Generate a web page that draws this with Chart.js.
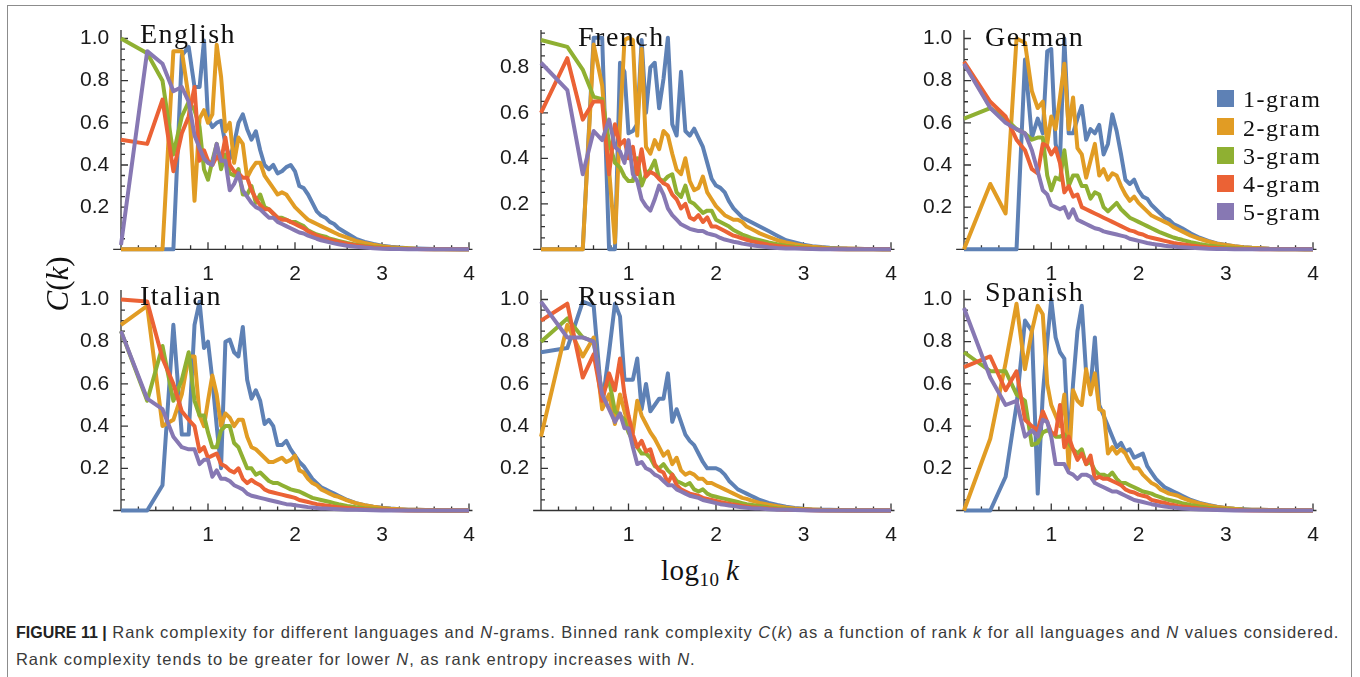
<!DOCTYPE html>
<html><head><meta charset="utf-8">
<script src="https://cdn.jsdelivr.net/npm/chart.js@4.4.1/dist/chart.umd.min.js"></script>
<style>
html,body{margin:0;padding:0;background:#fff;width:1360px;height:677px;overflow:hidden;position:relative;}
#frame{position:absolute;left:7px;top:5px;width:1345px;height:740px;border:1.5px solid #8c8c8c;box-sizing:border-box;}
canvas{position:absolute;}
.serif{position:absolute;font-family:"Liberation Serif",serif;color:#111;line-height:1;white-space:nowrap;}
.title{font-size:28px;letter-spacing:1.5px;}
.leg{font-size:24px;letter-spacing:1.5px;}
.sw{position:absolute;width:17px;height:17px;}
#ylab{font-size:31px;transform:translate(-50%,-50%) rotate(-90deg);}
#xlab{font-size:29px;letter-spacing:0.5px;}
#xlab sub{font-size:19px;vertical-align:-6px;line-height:0;}
.cap{position:absolute;left:16px;font-family:"Liberation Sans",Arial,sans-serif;font-size:16.5px;letter-spacing:0.95px;color:#3a3a3a;white-space:nowrap;line-height:1;}
.cap b{color:#222;letter-spacing:0;font-size:16px;}
</style>
</head><body>
<div id="frame"></div>
<div id="root"></div>
<script>
// ---------------- data ----------------
const logK = [0, 0.301, 0.477, 0.602, 0.699, 0.778, 0.845, 0.903, 0.954, 1.0,
  1.05, 1.1, 1.15, 1.2, 1.25, 1.3, 1.35, 1.4, 1.45, 1.5, 1.55, 1.6, 1.65, 1.7, 1.75, 1.8, 1.85, 1.9, 1.95, 2.0,
  2.05, 2.1, 2.15, 2.2, 2.25, 2.3, 2.35, 2.4, 2.45, 2.5,
  2.6, 2.7, 2.8, 2.9, 3.0, 3.1, 3.2, 3.3, 3.4, 3.5, 3.6, 3.7, 3.8, 3.9, 4.0];

const languages = ['English', 'French', 'German', 'Italian', 'Russian', 'Spanish'];
const ngramLabels = ['1-gram', '2-gram', '3-gram', '4-gram', '5-gram'];
const xTickLabels = [1, 2, 3, 4];
const yTickLabels = [0.2, 0.4, 0.6, 0.8, 1.0];

const english1 = [0,0,0,0,0.92,0.96,0.77,0.77,0.99,0.62,
  0.58,0.6,0.61,0.5,0.43,0.5,0.6,0.64,0.57,0.52,0.56,0.47,0.4,0.38,0.4,0.36,0.37,0.39,0.4,0.37,
  0.3,0.29,0.26,0.22,0.18,0.16,0.15,0.13,0.12,0.1,
  0.075,0.05,0.035,0.025,0.017,0.012,0.008,0.005,0.004,0.003,0.002,0.001,0.001,0.0005,0];
const english2 = [0,0,0,0.94,0.94,0.72,0.23,0.62,0.66,0.6,
  0.64,0.97,0.82,0.56,0.6,0.41,0.53,0.5,0.34,0.38,0.41,0.41,0.35,0.32,0.29,0.26,0.27,0.26,0.23,0.2,
  0.18,0.16,0.14,0.13,0.12,0.11,0.1,0.09,0.08,0.07,
  0.055,0.04,0.03,0.022,0.015,0.01,0.007,0.005,0.003,0.002,0.0015,0.001,0.0005,0.0003,0];
const english3 = [1.0,0.93,0.8,0.45,0.63,0.7,0.66,0.58,0.38,0.33,
  0.42,0.5,0.38,0.45,0.36,0.35,0.38,0.26,0.26,0.3,0.22,0.26,0.2,0.19,0.17,0.15,0.15,0.14,0.13,0.13,
  0.12,0.11,0.09,0.08,0.07,0.065,0.06,0.05,0.045,0.04,
  0.03,0.022,0.016,0.011,0.008,0.005,0.004,0.003,0.002,0.001,0,0,0,0,0];
const english4 = [0.52,0.5,0.71,0.37,0.55,0.63,0.77,0.42,0.47,0.42,
  0.4,0.44,0.42,0.53,0.4,0.37,0.36,0.34,0.34,0.28,0.24,0.21,0.19,0.19,0.17,0.15,0.14,0.14,0.13,0.12,
  0.11,0.1,0.085,0.075,0.065,0.058,0.05,0.045,0.04,0.035,
  0.026,0.019,0.013,0.009,0.006,0.004,0.003,0.002,0.001,0,0,0,0,0,0];
const english5 = [0.02,0.94,0.88,0.75,0.77,0.7,0.54,0.48,0.43,0.41,
  0.4,0.5,0.42,0.42,0.28,0.31,0.36,0.28,0.25,0.22,0.2,0.19,0.17,0.15,0.15,0.13,0.12,0.11,0.1,0.09,
  0.08,0.075,0.065,0.058,0.05,0.043,0.038,0.033,0.028,0.024,
  0.017,0.012,0.008,0.005,0.003,0.002,0.001,0,0,0,0,0,0,0,0];

const french1 = [0,0,0,0.93,0.93,0,0,0.82,0.78,0.51,
  0.52,0.55,0.92,0.6,0.8,0.82,0.62,0.75,0.93,0.55,0.5,0.78,0.52,0.5,0.53,0.49,0.45,0.38,0.31,0.28,
  0.27,0.25,0.21,0.18,0.16,0.14,0.13,0.12,0.11,0.1,
  0.08,0.06,0.04,0.03,0.02,0.014,0.01,0.007,0.005,0.003,0.002,0.001,0.001,0,0];
const french2 = [0,0,0,0.9,0.72,0.35,0.03,0.55,0.92,0.93,
  0.92,0.5,0.88,0.45,0.42,0.48,0.44,0.52,0.5,0.42,0.35,0.33,0.4,0.3,0.26,0.27,0.32,0.25,0.22,0.19,
  0.17,0.15,0.14,0.13,0.13,0.12,0.1,0.09,0.08,0.07,
  0.055,0.04,0.03,0.022,0.016,0.011,0.008,0.005,0.004,0.003,0.002,0.001,0.001,0,0];
const french3 = [0.92,0.89,0.79,0.67,0.66,0.47,0.38,0.36,0.32,0.3,
  0.3,0.4,0.28,0.33,0.35,0.39,0.31,0.3,0.32,0.33,0.25,0.23,0.28,0.21,0.2,0.18,0.16,0.17,0.17,0.13,
  0.12,0.11,0.1,0.085,0.075,0.065,0.058,0.05,0.045,0.04,
  0.03,0.022,0.016,0.011,0.008,0.005,0.003,0.002,0.001,0,0,0,0,0,0];
const french4 = [0.6,0.84,0.57,0.65,0.65,0.33,0.55,0.46,0.48,0.4,
  0.45,0.33,0.44,0.32,0.34,0.33,0.31,0.29,0.28,0.24,0.22,0.18,0.2,0.14,0.13,0.15,0.12,0.14,0.1,0.1,
  0.09,0.08,0.07,0.06,0.055,0.048,0.042,0.036,0.032,0.028,
  0.02,0.015,0.01,0.007,0.005,0.003,0.002,0.001,0,0,0,0,0,0,0];
const french5 = [0.82,0.7,0.33,0.52,0.48,0.57,0.45,0.43,0.38,0.48,
  0.33,0.3,0.22,0.19,0.17,0.22,0.28,0.24,0.18,0.15,0.13,0.11,0.1,0.09,0.085,0.08,0.08,0.07,0.065,0.06,
  0.05,0.043,0.038,0.033,0.03,0.025,0.022,0.019,0.016,0.013,
  0.009,0.006,0.004,0.003,0.002,0.001,0,0,0,0,0,0,0,0,0];

const german1 = [0,0,0,0,0.9,0.53,0.62,0.55,0.94,0.95,
  0.5,0.42,1.0,0.55,0.55,0.62,0.68,0.52,0.57,0.55,0.59,0.45,0.5,0.64,0.56,0.45,0.33,0.31,0.33,0.28,
  0.25,0.24,0.21,0.19,0.17,0.15,0.14,0.12,0.11,0.1,
  0.075,0.055,0.04,0.028,0.02,0.014,0.01,0.007,0.005,0.003,0.002,0.001,0.001,0,0];
const german2 = [0,0.31,0.17,1.0,0.98,0.75,0.67,0.7,0.5,0.63,
  0.57,0.72,0.88,0.57,0.72,0.48,0.45,0.34,0.42,0.5,0.35,0.38,0.33,0.36,0.35,0.3,0.26,0.23,0.25,0.22,
  0.2,0.18,0.16,0.15,0.14,0.13,0.12,0.105,0.095,0.085,
  0.065,0.05,0.037,0.027,0.02,0.014,0.01,0.007,0.005,0.003,0.002,0.001,0.001,0,0];
const german3 = [0.62,0.67,0.62,0.57,0.55,0.52,0.53,0.53,0.35,0.28,
  0.34,0.33,0.47,0.3,0.35,0.35,0.3,0.3,0.24,0.27,0.26,0.2,0.18,0.2,0.22,0.19,0.17,0.15,0.14,0.13,
  0.12,0.11,0.1,0.09,0.08,0.072,0.064,0.056,0.05,0.045,
  0.034,0.025,0.018,0.013,0.009,0.006,0.004,0.003,0.002,0.001,0,0,0,0,0];
const german4 = [0.89,0.7,0.63,0.52,0.47,0.38,0.36,0.5,0.49,0.45,
  0.48,0.41,0.27,0.3,0.25,0.26,0.2,0.19,0.18,0.17,0.16,0.15,0.14,0.13,0.12,0.11,0.1,0.09,0.085,0.075,
  0.07,0.06,0.055,0.05,0.045,0.04,0.035,0.03,0.027,0.024,
  0.018,0.013,0.009,0.006,0.004,0.003,0.002,0.001,0,0,0,0,0,0,0];
const german5 = [0.88,0.67,0.6,0.57,0.55,0.47,0.37,0.28,0.26,0.21,
  0.2,0.19,0.2,0.15,0.19,0.14,0.13,0.12,0.11,0.1,0.095,0.085,0.08,0.075,0.07,0.065,0.06,0.05,0.045,0.04,
  0.035,0.03,0.026,0.023,0.02,0.017,0.015,0.013,0.011,0.01,
  0.007,0.005,0.003,0.002,0.001,0,0,0,0,0,0,0,0,0,0];

const italian1 = [0,0,0.12,0.88,0.36,0.36,0.88,0.99,0.77,0.8,
  0.62,0.4,0.2,0.8,0.81,0.75,0.73,0.87,0.62,0.53,0.57,0.52,0.41,0.43,0.4,0.31,0.31,0.33,0.29,0.26,
  0.23,0.21,0.18,0.15,0.13,0.11,0.1,0.09,0.08,0.07,
  0.05,0.035,0.025,0.018,0.013,0.009,0.006,0.004,0.003,0.002,0.001,0,0,0,0];
const italian2 = [0.88,0.97,0.4,0.43,0.55,0.73,0.73,0.45,0.4,0.52,
  0.64,0.55,0.4,0.46,0.44,0.4,0.43,0.43,0.35,0.3,0.29,0.27,0.25,0.23,0.23,0.24,0.25,0.23,0.24,0.26,
  0.19,0.18,0.15,0.13,0.12,0.1,0.09,0.08,0.07,0.065,
  0.048,0.035,0.025,0.018,0.012,0.008,0.006,0.004,0.003,0.002,0.001,0,0,0,0];
const italian3 = [0.85,0.52,0.78,0.52,0.62,0.75,0.52,0.45,0.45,0.37,
  0.3,0.3,0.38,0.4,0.4,0.32,0.3,0.25,0.2,0.2,0.17,0.18,0.16,0.14,0.13,0.13,0.12,0.11,0.1,0.095,
  0.09,0.08,0.07,0.06,0.055,0.05,0.045,0.04,0.035,0.03,
  0.022,0.016,0.011,0.008,0.005,0.003,0.002,0.001,0,0,0,0,0,0,0];
const italian4 = [1.0,0.99,0.72,0.6,0.47,0.43,0.4,0.28,0.3,0.25,
  0.26,0.27,0.22,0.21,0.19,0.18,0.2,0.15,0.13,0.145,0.13,0.12,0.1,0.09,0.085,0.08,0.075,0.07,0.065,0.06,
  0.05,0.045,0.04,0.035,0.03,0.027,0.024,0.021,0.018,0.016,
  0.012,0.008,0.006,0.004,0.003,0.002,0.001,0,0,0,0,0,0,0,0];
const italian5 = [0.85,0.53,0.48,0.35,0.3,0.29,0.29,0.22,0.24,0.24,
  0.16,0.19,0.15,0.15,0.14,0.12,0.11,0.1,0.08,0.07,0.065,0.06,0.055,0.05,0.045,0.04,0.035,0.03,0.028,0.025,
  0.022,0.019,0.016,0.014,0.012,0.01,0.009,0.008,0.007,0.006,
  0.004,0.003,0.002,0.001,0,0,0,0,0,0,0,0,0,0,0];

const russian1 = [0.75,0.77,0.99,0.97,0.5,0.75,0.98,0.92,0.62,0.62,
  0.62,0.72,0.48,0.6,0.47,0.5,0.53,0.53,0.65,0.42,0.48,0.42,0.36,0.33,0.31,0.27,0.23,0.2,0.2,0.2,
  0.19,0.17,0.14,0.12,0.1,0.09,0.08,0.07,0.06,0.05,
  0.036,0.026,0.018,0.012,0.008,0.005,0.004,0.003,0.002,0.001,0,0,0,0,0];
const russian2 = [0.35,0.88,0.73,0.82,0.48,0.55,0.41,0.55,0.47,0.4,
  0.37,0.52,0.45,0.41,0.37,0.34,0.3,0.26,0.28,0.22,0.25,0.19,0.17,0.18,0.17,0.15,0.15,0.13,0.13,0.12,
  0.11,0.1,0.09,0.08,0.07,0.06,0.055,0.048,0.042,0.036,
  0.027,0.02,0.014,0.01,0.007,0.005,0.003,0.002,0.001,0,0,0,0,0,0];
const russian3 = [0.8,0.91,0.82,0.8,0.55,0.62,0.47,0.45,0.43,0.37,
  0.33,0.3,0.27,0.27,0.25,0.21,0.2,0.22,0.19,0.17,0.14,0.13,0.12,0.13,0.1,0.09,0.1,0.08,0.07,0.065,
  0.06,0.055,0.05,0.045,0.04,0.035,0.03,0.027,0.024,0.021,
  0.015,0.011,0.008,0.005,0.003,0.002,0.001,0,0,0,0,0,0,0,0];
const russian4 = [0.9,0.98,0.63,0.74,0.52,0.65,0.57,0.72,0.55,0.45,
  0.36,0.3,0.33,0.28,0.29,0.22,0.19,0.18,0.13,0.17,0.12,0.1,0.09,0.08,0.075,0.07,0.06,0.055,0.05,0.045,
  0.04,0.036,0.032,0.028,0.025,0.022,0.019,0.016,0.014,0.012,
  0.009,0.006,0.004,0.003,0.002,0.001,0,0,0,0,0,0,0,0,0];
const russian5 = [0.99,0.82,0.82,0.8,0.55,0.48,0.42,0.46,0.39,0.39,
  0.3,0.22,0.23,0.2,0.19,0.17,0.16,0.14,0.12,0.12,0.1,0.09,0.08,0.07,0.065,0.06,0.05,0.045,0.04,0.035,
  0.03,0.027,0.024,0.021,0.018,0.015,0.013,0.011,0.01,0.009,
  0.006,0.004,0.003,0.002,0.001,0,0,0,0,0,0,0,0,0,0];

const spanish1 = [0,0,0.16,0.5,0.9,0.85,0.08,0.55,0.8,1.0,
  0.82,0.75,0.72,0.3,0.6,0.85,0.97,0.65,0.58,0.82,0.5,0.45,0.4,0.35,0.3,0.32,0.28,0.29,0.25,0.26,
  0.27,0.21,0.18,0.15,0.13,0.11,0.1,0.09,0.08,0.07,
  0.05,0.036,0.026,0.018,0.012,0.008,0.006,0.004,0.003,0.002,0.001,0,0,0,0];
const spanish2 = [0,0.34,0.7,0.98,0.67,0.85,0.97,0.93,0.6,0.5,
  0.45,0.4,0.55,0.2,0.57,0.52,0.5,0.67,0.55,0.65,0.48,0.47,0.27,0.3,0.27,0.29,0.27,0.23,0.2,0.2,
  0.17,0.15,0.13,0.12,0.1,0.09,0.08,0.075,0.07,0.06,
  0.045,0.033,0.024,0.017,0.012,0.008,0.005,0.004,0.003,0.002,0.001,0,0,0,0];
const spanish3 = [0.75,0.66,0.66,0.55,0.52,0.31,0.32,0.37,0.38,0.37,
  0.35,0.35,0.36,0.32,0.29,0.27,0.29,0.22,0.23,0.19,0.17,0.17,0.16,0.18,0.15,0.13,0.13,0.12,0.11,0.1,
  0.09,0.085,0.08,0.07,0.063,0.055,0.05,0.045,0.04,0.035,
  0.026,0.019,0.013,0.009,0.006,0.004,0.003,0.002,0.001,0,0,0,0,0,0];
const spanish4 = [0.68,0.73,0.57,0.66,0.43,0.4,0.38,0.47,0.42,0.37,
  0.36,0.5,0.3,0.35,0.29,0.24,0.27,0.22,0.26,0.15,0.16,0.15,0.15,0.14,0.13,0.12,0.1,0.09,0.085,0.075,
  0.07,0.065,0.05,0.045,0.04,0.036,0.03,0.026,0.022,0.019,
  0.014,0.01,0.007,0.005,0.003,0.002,0.001,0,0,0,0,0,0,0,0];
const spanish5 = [0.96,0.63,0.5,0.52,0.35,0.38,0.35,0.43,0.42,0.35,
  0.22,0.22,0.22,0.18,0.17,0.15,0.17,0.17,0.16,0.13,0.12,0.11,0.1,0.09,0.09,0.08,0.07,0.06,0.05,0.045,
  0.04,0.035,0.03,0.026,0.022,0.019,0.016,0.014,0.012,0.01,
  0.007,0.005,0.003,0.002,0.001,0,0,0,0,0,0,0,0,0,0];

const seriesByLanguage = {
  English: [english1, english2, english3, english4, english5],
  French:  [french1, french2, french3, french4, french5],
  German:  [german1, german2, german3, german4, german5],
  Italian: [italian1, italian2, italian3, italian4, italian5],
  Russian: [russian1, russian2, russian3, russian4, russian5],
  Spanish: [spanish1, spanish2, spanish3, spanish4, spanish5]
};

// ---------------- styling / layout ----------------
const colors = ['#5E81B5', '#E19C24', '#8FB032', '#EB6235', '#8778B3'];
const colX0 = [121, 541, 964];        // pixel of x = 0 per column
const colUnit = [87, 87.5, 87.25];    // pixels per x unit
const rowY0 = [249.3, 510.5];         // pixel of y = 0 per row
const rowTop = [30, 290];             // top of y axis per row
const yUnitGrid = [[210.8, 227.5, 210.8], [211, 211, 211]];
const XMIN = -0.09, XMAX = 4.04;
const YW = 50, PT = 18, PR = 16, XH = 36;

Chart.defaults.font.family = '"Liberation Sans", Arial, sans-serif';
Chart.defaults.font.size = 21;
Chart.defaults.color = '#1a1a1a';

const mmaAxes = {
  id: 'mmaAxes',
  beforeDatasetsDraw(chart) {
    const {ctx, scales: {x, y}} = chart;
    const px0 = x.getPixelForValue(0), py0 = y.getPixelForValue(0);
    ctx.save();
    ctx.strokeStyle = '#333';
    ctx.lineWidth = 1.3;
    ctx.beginPath();
    ctx.moveTo(x.left, py0); ctx.lineTo(x.right, py0);
    ctx.moveTo(px0, py0); ctx.lineTo(px0, y.top);
    for (let i = 1; i <= 20; i++) {
      const p = x.getPixelForValue(i * 0.2);
      ctx.moveTo(p, py0); ctx.lineTo(p, py0 - (i % 5 === 0 ? 7 : 4));
    }
    for (let i = 1; i * 0.05 <= y.max + 1e-9; i++) {
      const p = y.getPixelForValue(i * 0.05);
      ctx.moveTo(px0, p); ctx.lineTo(px0 + (i % 4 === 0 ? 7 : 4), p);
    }
    ctx.stroke();
    ctx.restore();
  }
};

const root = document.getElementById('root');
languages.forEach((lang, idx) => {
  const r = Math.floor(idx / 3), c = idx % 3;
  const x0 = colX0[c], ux = colUnit[c], y0 = rowY0[r], uy = yUnitGrid[r][c], top = rowTop[r];
  const chartL = x0 + XMIN * ux, chartR = x0 + XMAX * ux, chartT = top, chartB = y0 + 3;
  const cL = Math.floor(chartL - YW), cT = Math.floor(chartT - PT);
  const cW = Math.ceil(chartR + PR - cL), cH = Math.ceil(chartB + XH - cT);
  const ywEff = chartL - cL, ptEff = chartT - cT, prEff = cL + cW - chartR, xhEff = cT + cH - chartB;
  const ymin = -3 / uy, ymax = (y0 - top) / uy;

  const cv = document.createElement('canvas');
  cv.width = cW; cv.height = cH;
  cv.style.left = cL + 'px'; cv.style.top = cT + 'px';
  cv.style.width = cW + 'px'; cv.style.height = cH + 'px';
  root.appendChild(cv);

  const datasets = seriesByLanguage[lang].map((arr, i) => ({
    label: ngramLabels[i],
    data: logK.map((k, j) => ({x: k, y: arr[j]})),
    borderColor: colors[i],
    backgroundColor: colors[i],
    borderWidth: 4,
    pointRadius: 0,
    tension: 0,
    borderJoinStyle: 'round',
    order: 5 - i
  }));

  new Chart(cv, {
    type: 'line',
    data: {datasets},
    options: {
      responsive: false, animation: false, devicePixelRatio: 1,
      layout: {padding: {top: ptEff, right: prEff, left: 0, bottom: 0}},
      plugins: {legend: {display: false}, tooltip: {enabled: false}},
      scales: {
        x: {
          type: 'linear', min: XMIN, max: XMAX,
          grid: {display: false, drawTicks: false}, border: {display: false},
          afterBuildTicks: s => { s.ticks = xTickLabels.map(v => ({value: v})); },
          afterFit: s => { s.height = xhEff; },
          ticks: {padding: 9, maxRotation: 0, autoSkip: false, callback: v => String(v)}
        },
        y: {
          type: 'linear', min: ymin, max: ymax,
          grid: {display: false, drawTicks: false}, border: {display: false},
          afterBuildTicks: s => { s.ticks = yTickLabels.filter(v => v <= ymax + 1e-9).map(v => ({value: v})); },
          afterFit: s => { s.width = ywEff; },
          ticks: {padding: 4, autoSkip: false, callback: v => v.toFixed(1)}
        }
      }
    },
    plugins: [mmaAxes]
  });
});

// ---------- text elements ----------
function addText(cls, html, left, baseline, fs, asc) {
  const d = document.createElement('div');
  d.className = cls;
  d.innerHTML = html;
  d.style.left = left + 'px';
  d.style.top = (baseline - fs * asc) + 'px';
  root.appendChild(d);
  return d;
}
const serifAsc = 0.8375; // baseline offset for line-height 1 (Liberation Serif)
const titlePos = [[140, 43.3], [578, 46], [985, 46], [140, 305], [578, 305], [985, 301.7]];
languages.forEach((lang, i) => addText('serif title', lang, titlePos[i][0], titlePos[i][1], 28, serifAsc));

ngramLabels.forEach((lab, i) => {
  const sw = document.createElement('div');
  sw.className = 'sw';
  sw.style.left = '1216.5px';
  sw.style.top = (90 + i * 28.3) + 'px';
  sw.style.background = colors[i];
  root.appendChild(sw);
  addText('serif leg', lab, 1243, 107.3 + i * 28.3, 24, serifAsc);
});

const yl = document.createElement('div');
yl.className = 'serif'; yl.id = 'ylab';
yl.innerHTML = '<i>C</i>(<i>k</i>)';
yl.style.left = '57px'; yl.style.top = '284px';
root.appendChild(yl);

addText('serif', '<span id="xlab">log<sub>10</sub>&#8201;<i>k</i></span>', 661, 580, 29, serifAsc);

const sansAsc = 0.8465;
addText('cap', '<b>FIGURE 11 |</b> Rank complexity for different languages and <i>N</i>-grams. Binned rank complexity <i>C</i>(<i>k</i>) as a function of rank <i>k</i> for all languages and <i>N</i> values considered.', 16, 638, 16.5, sansAsc);
addText('cap', 'Rank complexity tends to be greater for lower <i>N</i>, as rank entropy increases with <i>N</i>.', 16, 665, 16.5, sansAsc);
</script>
</body></html>
